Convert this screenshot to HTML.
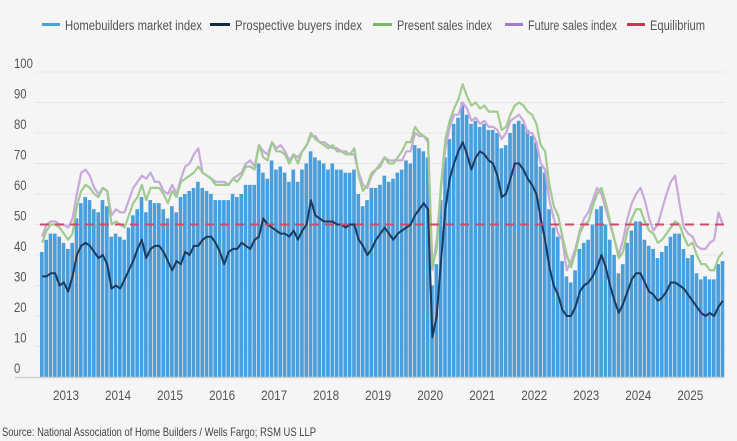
<!DOCTYPE html>
<html><head><meta charset="utf-8"><style>
body{margin:0;background:#f5f5f5;}
svg{display:block;font-family:"Liberation Sans Narrow","Liberation Sans",sans-serif;}
</style></head><body>
<svg id="chart" width="737" height="441" viewBox="0 0 737 441" xmlns="http://www.w3.org/2000/svg">
<rect width="737" height="441" fill="#f5f5f5"/>
<g id="legend" font-size="13.5" fill="#555">
 <g><rect x="42" y="23" width="18" height="3" fill="#4aa3dd"/><text x="65" y="30" textLength="137" lengthAdjust="spacingAndGlyphs">Homebuilders market index</text></g>
 <g><rect x="210" y="23" width="20" height="3" fill="#142a4a"/><text x="235" y="30" textLength="127" lengthAdjust="spacingAndGlyphs">Prospective buyers index</text></g>
 <g><rect x="373" y="23" width="19" height="3" fill="#79b56a"/><text x="397" y="30" textLength="95" lengthAdjust="spacingAndGlyphs">Present sales index</text></g>
 <g><rect x="505" y="23" width="18" height="3" fill="#a17cc8"/><text x="528" y="30" textLength="89" lengthAdjust="spacingAndGlyphs">Future sales index</text></g>
 <g><rect x="627" y="23" width="18" height="3" fill="#cf3552"/><text x="650" y="30" textLength="55" lengthAdjust="spacingAndGlyphs">Equilibrium</text></g>
</g>
<g id="grid"></g>
<g id="yaxis" font-size="14" fill="#555"></g>
<g id="bars"></g>
<g id="lines"></g>
<g id="xaxis" font-size="14" fill="#555"></g>
<text x="2" y="436" font-size="12" fill="#444" textLength="314" lengthAdjust="spacingAndGlyphs">Source: National Association of Home Builders / Wells Fargo; RSM US LLP</text>
</svg>
<script>
const startYear = 2012;
const startMonth = 9; // October (0-based)
const hmi = [41,45,47,
47,46,44,42,44,52,57,59,58,55,54,58,
56,46,47,46,45,49,53,55,59,54,58,57,
57,55,52,56,54,59,60,61,62,64,62,61,
60,58,58,58,58,60,59,60,63,63,63,70,
67,65,71,68,69,67,64,68,64,68,70,74,
72,71,70,68,70,68,68,67,67,68,60,56,
58,62,62,63,66,64,65,67,68,71,70,76,
75,74,72,30,37,58,72,78,83,85,90,86,
83,84,82,83,81,81,80,75,76,80,83,84,
83,81,79,77,69,67,55,49,46,38,33,31,
35,42,44,45,50,55,56,50,45,40,34,37,
44,48,51,51,45,43,42,39,41,43,46,47,
47,42,39,40,34,32,33,32,32,37,38];
const buyers = [33,33,34,
34,30,31,28,33,40,43,44,43,41,39,40,
37,29,30,29,32,35,38,42,45,39,42,43,
43,41,38,35,38,37,41,40,43,43,45,46,
46,44,41,37,41,42,42,44,43,42,45,46,
52,50,49,48,47,47,46,48,45,48,50,58,
53,52,51,51,51,50,50,49,50,50,45,43,
40,42,45,47,49,47,45,47,48,49,50,53,
55,57,55,13,20,38,55,65,70,74,77,73,
68,72,74,73,71,70,66,59,60,65,70,70,
68,65,63,60,52,45,36,30,27,22,20,20,
23,28,30,31,33,36,40,36,30,25,21,24,
28,32,34,34,31,28,27,25,26,28,31,31,
30,29,27,25,23,21,20,21,20,23,25];
const present = [44,48,50,
50,49,47,45,47,56,61,63,62,60,59,62,
61,50,51,50,49,53,57,59,63,58,62,62,
62,60,57,61,59,64,65,66,67,69,67,66,
65,63,63,63,63,65,64,66,69,69,68,76,
72,71,77,74,74,73,70,73,70,74,76,80,
78,77,76,75,76,74,74,73,73,75,66,61,
63,67,68,69,72,70,70,72,74,77,77,82,
80,79,78,36,42,63,78,84,88,91,96,92,
89,90,88,89,87,87,87,81,82,86,89,90,
89,87,86,83,76,74,63,56,53,46,40,36,
41,47,50,51,56,60,62,57,51,45,39,41,
48,52,55,55,51,48,47,44,45,47,49,51,
50,46,43,44,40,37,37,35,35,39,41];
const future = [46,50,51,
51,50,50,49,52,60,67,68,66,62,60,62,
61,53,55,54,54,58,62,64,66,65,67,64,
64,61,60,63,60,65,69,70,73,75,67,66,
65,64,64,64,63,65,66,67,70,71,69,76,
74,73,77,75,76,74,71,73,72,74,76,79,
79,77,77,76,75,75,74,74,73,73,67,63,
62,66,68,70,72,71,71,71,71,74,74,80,
79,79,77,35,45,62,75,82,86,86,90,88,
84,85,83,84,82,82,81,78,80,84,85,86,
84,80,80,77,70,68,58,52,47,45,35,38,
42,48,52,54,58,62,60,55,50,45,40,45,
52,57,60,62,58,52,48,50,55,60,64,66,
57,49,47,46,43,42,42,44,45,54,50];
const equilibrium = [50];
const yTicks = [0,10,20,30,40,50,60,70,80,90,100];
const yearLabels = ["2013","2014","2015","2016","2017","2018","2019","2020","2021","2022","2023","2024","2025"];

const NS="http://www.w3.org/2000/svg";
const X0=40, X1=725, Y0=377, PPU=3.05;
const n=hmi.length, bw=(X1-X0)/n;
const xs=i=>X0+i*bw;
const xc=i=>X0+(i+0.5)*bw;
const ys=v=>Y0-v*PPU;
function mk(tag,attrs,parent){const e=document.createElementNS(NS,tag);for(const k in attrs)e.setAttribute(k,attrs[k]);parent.appendChild(e);return e;}
const grid=document.getElementById('grid'),yax=document.getElementById('yaxis');
yTicks.forEach(t=>{
 if(t>0){const g=mk('line',{x1:35,x2:X1,y1:ys(t),y2:ys(t),stroke:'#e6e6e6','stroke-width':1},grid);
 
 }
 const tx=mk('text',{x:14,y:ys(t)-4,textLength:String(t).length*6.3,lengthAdjust:'spacingAndGlyphs'},yax);tx.textContent=String(t);
 
 
});
const bars=document.getElementById('bars');
hmi.forEach((v,i)=>{
 const r=mk('rect',{x:xs(i),y:ys(v),width:bw-0.7,height:Y0-ys(v),fill:'#4a9edb'},bars);
 
 
});
const base=mk('line',{x1:15,x2:X1,y1:Y0+0.5,y2:Y0+0.5,stroke:'#cfcfcf','stroke-width':1.5},bars);


const lines=document.getElementById('lines');
function line(arr,color,w,name){
 const d=arr.map((v,i)=>(i?'L':'M')+xc(i).toFixed(2)+','+ys(v).toFixed(2)).join('');
 const p=mk('path',{d:d,fill:'none',stroke:color,'stroke-width':w,'stroke-linejoin':'round'},lines);
 
 
}
line(future,'#c9a8dc',2.2,'future-sales-line');
line(present,'#9fcb8f',2.2,'present-sales-line');
line(buyers,'#1b3a60',2,'prospective-buyers-line');
const eq=mk('line',{x1:X0,x2:X1,y1:ys(equilibrium[0]),y2:ys(equilibrium[0]),stroke:'#cf4a66','stroke-width':2,'stroke-dasharray':'9,6'},lines);


const xax=document.getElementById('xaxis');
yearLabels.forEach(y=>{
 const idx=(parseInt(y)-startYear)*12-startMonth+3;
 const t=mk('text',{x:xs(idx)-13,y:400,textLength:26,lengthAdjust:'spacingAndGlyphs'},xax);t.textContent=y;
 
 
});
</script>
</body></html>
